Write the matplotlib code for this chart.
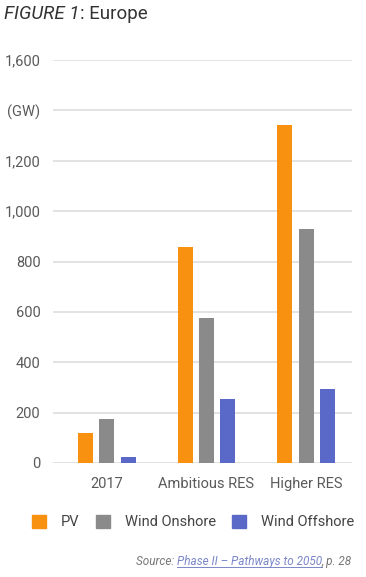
import matplotlib
matplotlib.use('Agg')
import matplotlib.pyplot as plt
import numpy as np
from matplotlib.patches import Patch
from matplotlib.lines import Line2D

plt.rcParams['font.family'] = ['Roboto', 'DejaVu Sans']

scenarios = ['2017', 'Ambitious RES', 'Higher RES']
series = ['PV', 'Wind Onshore', 'Wind Offshore']
pv = [120, 858, 1342]
onshore = [173, 575, 931]
offshore = [23, 254, 294]
ytick_vals = [0, 200, 400, 600, 800, 1000, 1200, 1400, 1600]
ytick_labels = ['0', '200', '400', '600', '800', '1,000', '1,200', '(GW)', '1,600']
colors = ['#F7910F', '#8A8A8A', '#5A69C8']

W, H = 366, 577
fig = plt.figure(figsize=(W / 100, H / 100), dpi=100)
ax = fig.add_axes([53 / W, 1 - 463 / H, (352 - 53) / W, (463 - 60) / H])

x = np.arange(len(scenarios))
w = 0.15
step = 0.215
for i, (vals, c) in enumerate(zip([pv, onshore, offshore], colors)):
    ax.bar(x + (i - 1) * step, vals, width=w, color=c, zorder=3)

ax.set_xlim(-0.54, 2.46)
ax.set_ylim(0, 1600)
ax.set_yticks(ytick_vals)
ax.set_yticklabels(ytick_labels)
ax.set_xticks(x)
ax.set_xticklabels(scenarios)
ax.grid(axis='y', color='#dddddd', linewidth=1.2, zorder=0)
for s in ax.spines.values():
    s.set_visible(False)
ax.tick_params(length=0, labelsize=10.5, colors='#5a5a5a')
ax.tick_params(axis='y', pad=9)
ax.tick_params(axis='x', pad=10)

handles = [Patch(color=c) for c in colors]
fig.legend(handles, series, loc='center', bbox_to_anchor=(193 / W, 1 - 522 / H),
           ncol=3, frameon=False, handlelength=1.0, handleheight=1.0,
           columnspacing=1.1, handletextpad=1.0, fontsize=10.5,
           labelcolor='#444444')

# title
fig.canvas.draw()
r = fig.canvas.get_renderer()
t1 = fig.text(4 / W, 1 - 14 / H, 'FIGURE 1', style='italic', fontsize=13.5,
              color='#333333', va='center', ha='left')
bb = t1.get_window_extent(r)
fig.text(bb.x1 / W, 1 - 14 / H, ': Europe', fontsize=13.5,
         color='#333333', va='center', ha='left')

# source line
sy = 1 - 565 / H
fs = 8.5
t3 = fig.text(352 / W, sy, ', p. 28', style='italic', fontsize=fs,
              color='#777777', ha='right', va='baseline')
b3 = t3.get_window_extent(r)
t2 = fig.text(b3.x0 / W, sy, 'Phase II \u2013 Pathways to 2050', style='italic',
              fontsize=fs, color='#7a86c9', ha='right', va='baseline')
b2 = t2.get_window_extent(r)
fig.text(b2.x0 / W, sy, 'Source: ', style='italic', fontsize=fs,
         color='#777777', ha='right', va='baseline')
fig.add_artist(Line2D([b2.x0 / W, b2.x1 / W], [sy - 1.5 / H, sy - 1.5 / H],
                      color='#7a86c9', linewidth=0.7, transform=fig.transFigure))

fig.savefig('out.png', dpi=100)
